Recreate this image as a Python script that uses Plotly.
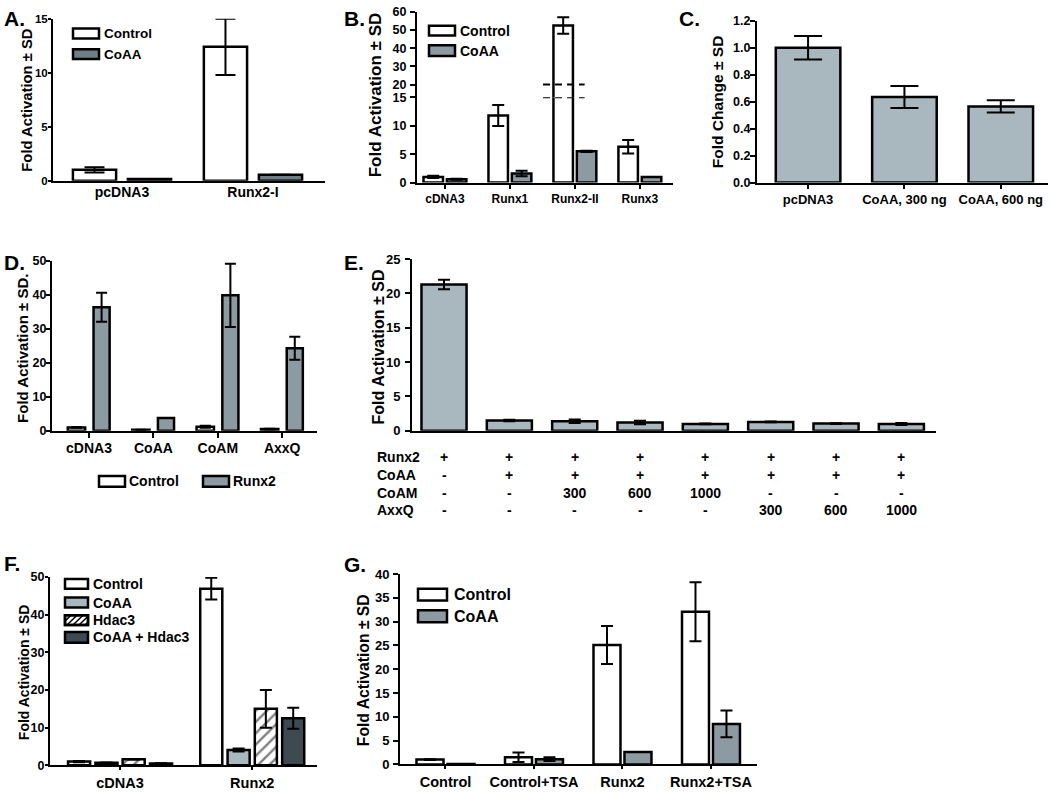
import plotly.graph_objects as go

# ---------------- data ----------------
A_cats = ["pcDNA3", "Runx2-I"]
A_control = [1.0, 12.4]
A_control_sd = [0.25, 2.6]
A_coaa = [0.15, 0.55]
A_coaa_sd = [0.0, 0.0]

B_cats = ["cDNA3", "Runx1", "Runx2-II", "Runx3"]
B_control = [1.0, 11.8, 52.5, 6.3]
B_control_sd = [0.2, 1.85, 4.5, 1.2]
B_coaa = [0.6, 1.6, 5.5, 1.0]
B_coaa_sd = [0.1, 0.5, 0.1, 0.0]
B_break_low, B_break_high = 15, 20

C_cats = ["pcDNA3", "CoAA, 300 ng", "CoAA, 600 ng"]
C_vals = [1.0, 0.635, 0.565]
C_sd = [0.087, 0.082, 0.045]

D_cats = ["cDNA3", "CoAA", "CoAM", "AxxQ"]
D_control = [1.0, 0.3, 1.2, 0.5]
D_control_sd = [0.1, 0.05, 0.3, 0.1]
D_runx2 = [36.4, 3.8, 39.9, 24.3]
D_runx2_sd = [4.3, 0.0, 9.3, 3.4]

E_row_names = ["Runx2", "CoAA", "CoAM", "AxxQ"]
E_runx2 = ["+", "+", "+", "+", "+", "+", "+", "+"]
E_coaa = ["-", "+", "+", "+", "+", "+", "+", "+"]
E_coam = ["-", "-", "300", "600", "1000", "-", "-", "-"]
E_axxq = ["-", "-", "-", "-", "-", "300", "600", "1000"]
E_vals = [21.3, 1.5, 1.4, 1.2, 1.0, 1.3, 1.05, 1.0]
E_sd = [0.7, 0.12, 0.25, 0.25, 0.05, 0.05, 0.05, 0.15]

F_cats = ["cDNA3", "Runx2"]
F_control = [1.0, 46.9]
F_control_sd = [0.15, 2.9]
F_coaa = [0.7, 4.1]
F_coaa_sd = [0.05, 0.4]
F_hdac3 = [1.6, 15.0]
F_hdac3_sd = [0.05, 5.0]
F_both = [0.5, 12.5]
F_both_sd = [0.05, 2.8]

G_cats = ["Control", "Control+TSA", "Runx2", "Runx2+TSA"]
G_control = [1.0, 1.5, 25.1, 32.1]
G_control_sd = [0.1, 1.0, 4.0, 6.2]
G_coaa = [0.1, 1.1, 2.6, 8.5]
G_coaa_sd = [0.0, 0.4, 0.0, 2.8]

# ---------------- styling ----------------
W, H = 1050, 792
FONT = "Liberation Sans, Arial, sans-serif"
WHITE = "#ffffff"
A_DARK = "#6f7f86"
MID = "#8c9ba1"
LIGHT = "#a9b8be"
DARKEST = "#3d4a51"
LW = 2.5


def fx(p):
    return p / W


def fy(p):
    return 1 - p / H


fig = go.Figure()


def bars(xa, ya, cats, vals, sd, color, center, width, capw, pattern=None):
    marker = dict(color=color, line=dict(color="black", width=LW))
    if pattern is not None:
        marker["pattern"] = pattern
    fig.add_trace(go.Bar(
        x=cats, y=vals, xaxis=xa, yaxis=ya,
        offset=center - width / 2, width=width,
        marker=marker,
        error_y=dict(type="data", array=sd, visible=True, color="black",
                     thickness=2, width=capw),
        showlegend=False, hoverinfo="skip"))


# Panel A
bars("x", "y", A_cats, A_control, A_control_sd, WHITE, -0.21, 0.33, 10)
bars("x", "y", A_cats, A_coaa, A_coaa_sd, A_DARK, 0.21, 0.33, 10)
# Panel B (broken axis: lower segment y2, upper segment y8)
bars("x2", "y2", B_cats, B_control, B_control_sd, WHITE, -0.18, 0.30, 6)
bars("x2", "y2", B_cats, B_coaa, B_coaa_sd, MID, 0.18, 0.30, 6)
B_top_vals = [v if v > B_break_high else None for v in B_control]
B_top_sd = [s if v > B_break_high else None for v, s in zip(B_control, B_control_sd)]
bars("x2", "y8", B_cats, B_top_vals, B_top_sd, WHITE, -0.18, 0.30, 6)
# Panel C
bars("x3", "y3", C_cats, C_vals, C_sd, LIGHT, 0.0, 0.67, 14)
# Panel D
bars("x4", "y4", D_cats, D_control, D_control_sd, WHITE, -0.195, 0.27, 5.5)
bars("x4", "y4", D_cats, D_runx2, D_runx2_sd, MID, 0.195, 0.25, 5.5)
# Panel E
E_cats = ["|".join(t) for t in zip(E_runx2, E_coaa, E_coam, E_axxq)]
bars("x5", "y5", E_cats, E_vals, E_sd, LIGHT, 0.0, 0.69, 6)
# Panel F
bars("x6", "y6", F_cats, F_control, F_control_sd, WHITE, -0.31, 0.167, 6)
bars("x6", "y6", F_cats, F_coaa, F_coaa_sd, LIGHT, -0.103, 0.167, 6)
bars("x6", "y6", F_cats, F_hdac3, F_hdac3_sd, WHITE, 0.103, 0.167, 6,
     pattern=dict(shape="/", fgcolor="black", bgcolor="white", size=8, solidity=0.3))
bars("x6", "y6", F_cats, F_both, F_both_sd, DARKEST, 0.31, 0.167, 6)
# Panel G
bars("x7", "y7", G_cats, G_control, G_control_sd, WHITE, -0.175, 0.305, 6)
bars("x7", "y7", G_cats, G_coaa, G_coaa_sd, MID, 0.175, 0.305, 6)


def xax(l, r, rng, anchor, size, show=True, ticklen=5, standoff=0):
    d = dict(domain=[fx(l), fx(r)], range=rng, anchor=anchor, type="category",
             showline=True, linecolor="black", linewidth=2, showgrid=False,
             zeroline=False, fixedrange=True, ticklabelstandoff=standoff,
             tickfont=dict(family=FONT, size=size, color="black", weight="bold"))
    if show and ticklen > 0:
        d.update(ticks="outside", ticklen=ticklen, tickwidth=2, tickcolor="black")
    elif show:
        d.update(ticks="")
    else:
        d.update(ticks="", showticklabels=False)
    return d


def yax(top, bottom, rng, dtick, anchor, size, tickvals=None, fmt=None,
        ticklen=5, standoff=0):
    d = dict(domain=[fy(bottom), fy(top)], range=rng, anchor=anchor,
             showline=True, linecolor="black", linewidth=2, showgrid=False,
             zeroline=False, ticks="outside", ticklen=ticklen, tickwidth=2,
             tickcolor="black", dtick=dtick, tick0=0, fixedrange=True,
             ticklabelstandoff=standoff,
             tickfont=dict(family=FONT, size=size, color="black", weight="bold"))
    if tickvals is not None:
        d["tickvals"] = tickvals
    if fmt:
        d["tickformat"] = fmt
    return d


# upper B segment: 20 sits at y=79px, 60 at y=5px; extend it down to the lower segment (92px)
B_top_low = B_break_high - (92 - 79) * (60 - B_break_high) / (79 - 5)

fig.update_layout(
    width=W, height=H, margin=dict(l=0, r=0, t=0, b=0),
    paper_bgcolor="white", plot_bgcolor="white", barmode="overlay",
    font=dict(family=FONT, color="black"),
    xaxis=xax(53, 325, [-0.527, 1.55], "y", 14, ticklen=0, standoff=-2),
    yaxis=yax(12, 177, [0, 15], 5, "x", 11.5, ticklen=3, standoff=-2),
    xaxis2=xax(417, 673, [-0.43, 3.51], "y2", 12, ticklen=4),
    yaxis2=yax(92, 179, [0, 15], 5, "x2", 12.5, tickvals=[0, 5, 10, 15], standoff=1),
    yaxis8=yax(5, 92, [B_top_low, 60], 10, "x2", 12.5, tickvals=[20, 30, 40, 50, 60],
               standoff=1),
    xaxis3=xax(757, 1048, [-0.53, 2.49], "y3", 13, ticklen=4),
    yaxis3=yax(14, 179, [0, 1.2], 0.2, "x3", 12.5, fmt=".1f", standoff=-3),
    xaxis4=xax(52, 317, [-0.575, 3.54], "y4", 14, standoff=-2),
    yaxis4=yax(259, 432, [0, 50], 10, "x4", 12.5, ticklen=4, standoff=-3),
    xaxis5=xax(412, 936, [-0.49, 7.53], "y5", 13, show=False),
    yaxis5=yax(257, 432, [0, 25], 5, "x5", 13, standoff=2),
    xaxis6=xax(50, 317, [-0.53, 1.49], "y6", 14.5, ticklen=3),
    yaxis6=yax(581, 773, [0, 50], 10, "x6", 12.5, ticklen=3, standoff=-2),
    xaxis7=xax(400, 757, [-0.514, 3.52], "y7", 14.5, ticklen=3),
    yaxis7=yax(578, 772, [0, 40], 5, "x7", 13, standoff=1),
)


def ann(text, x, y, size, xanchor="left", angle=0, xref="paper"):
    fig.add_annotation(text=text, x=fx(x) if xref == "paper" else x, y=fy(y),
                       xref=xref, yref="paper", showarrow=False,
                       font=dict(family=FONT, size=size, color="black", weight="bold"),
                       xanchor=xanchor, yanchor="middle", textangle=angle)


# panel letters
for lab, x, y in [("A.", 2, 12), ("B.", 342, 12), ("C.", 677, 12), ("D.", 2, 260),
                  ("E.", 342, 260), ("F.", 2, 567), ("G.", 342, 568)]:
    ann(lab, x, y, 21)

# y axis titles
for txt, x, y, s in [("Fold Activation ± SD", 27.5, 95, 14.8),
                     ("Fold Activation ± SD", 375, 90, 17),
                     ("Fold Change ± SD", 717, 97, 15.5),
                     ("Fold Activation ± SD.", 22.5, 348, 15),
                     ("Fold Activation ± SD", 378, 347, 16),
                     ("Fold Activation ± SD", 24, 678, 14),
                     ("Fold Activation ± SD", 363, 676, 15.7)]:
    ann(txt, x, y, s, xanchor="center", angle=-90)

# E condition table
E_rows = [E_runx2, E_coaa, E_coam, E_axxq]
E_row_y = [459, 477, 495, 513]
for name, row, yy in zip(E_row_names, E_rows, E_row_y):
    ann(name, 375, yy, 14)
    for cat, v in zip(E_cats, row):
        ann(v, cat, yy, 14, xanchor="center", xref="x5")


# legends (swatches + labels)
def swatch(l, t, r, b, color):
    fig.add_shape(type="rect", xref="paper", yref="paper", x0=fx(l), x1=fx(r),
                  y0=fy(b), y1=fy(t), line=dict(color="black", width=2.5),
                  fillcolor=color)


def hatch(l, t, r, b, step=6):
    h = b - t
    segs = []
    c = l - h
    while c < r:
        x0, y0 = c, b
        x1, y1 = c + h, t
        if x0 < l:
            y0 = b - (l - x0)
            x0 = l
        if x1 > r:
            y1 = t + (x1 - r)
            x1 = r
        if x1 > x0:
            segs.append("M%.5f,%.5f L%.5f,%.5f" % (fx(x0), fy(y0), fx(x1), fy(y1)))
        c += step
    fig.add_shape(type="path", xref="paper", yref="paper", path=" ".join(segs),
                  line=dict(color="black", width=1.5))


# A legend
swatch(73, 22, 99, 32, WHITE); ann("Control", 102, 27, 13.5)
swatch(73, 43, 99, 53, A_DARK); ann("CoAA", 102, 48, 13.5)
# B legend
swatch(429, 19, 455, 29, WHITE); ann("Control", 458, 24, 14)
swatch(429, 39, 455, 50, MID); ann("CoAA", 458, 45, 14)
# D legend (below chart)
swatch(99, 478, 125, 489, WHITE); ann("Control", 127, 483.5, 14)
swatch(203, 478, 229, 489, MID); ann("Runx2", 231, 483.5, 14)
# F legend
swatch(65, 583, 88, 593, WHITE); ann("Control", 91, 588, 14)
swatch(65, 602, 88, 612, LIGHT); ann("CoAA", 91, 607, 14)
swatch(65, 620, 88, 630, WHITE); hatch(65, 620, 88, 630); ann("Hdac3", 91, 625, 14)
fig.add_shape(type="rect", xref="paper", yref="paper", x0=fx(65), x1=fx(88),
              y0=fy(630), y1=fy(620), line=dict(color="black", width=2.5))
swatch(65, 637, 88, 648, DARKEST); ann("CoAA + Hdac3", 91, 642.5, 14)
# G legend
swatch(418, 593, 447, 605, WHITE); ann("Control", 452, 599, 16)
swatch(418, 615, 447, 627, MID); ann("CoAA", 452, 621, 16)

# B axis-break dashes across the Runx2-II bar
b_idx = B_cats.index("Runx2-II")
for yref, yv in (("y8", B_break_high), ("y2", B_break_low)):
    fig.add_shape(type="line", xref="x2", yref=yref, x0=b_idx - 0.49, x1=b_idx + 0.15,
                  y0=yv, y1=yv, line=dict(color="black", width=2, dash="7px,5px"))

fig.write_html("out.html", config={"responsive": False, "displayModeBar": False},
               post_script="document.body.style.margin='0';document.body.style.overflow='hidden';")
